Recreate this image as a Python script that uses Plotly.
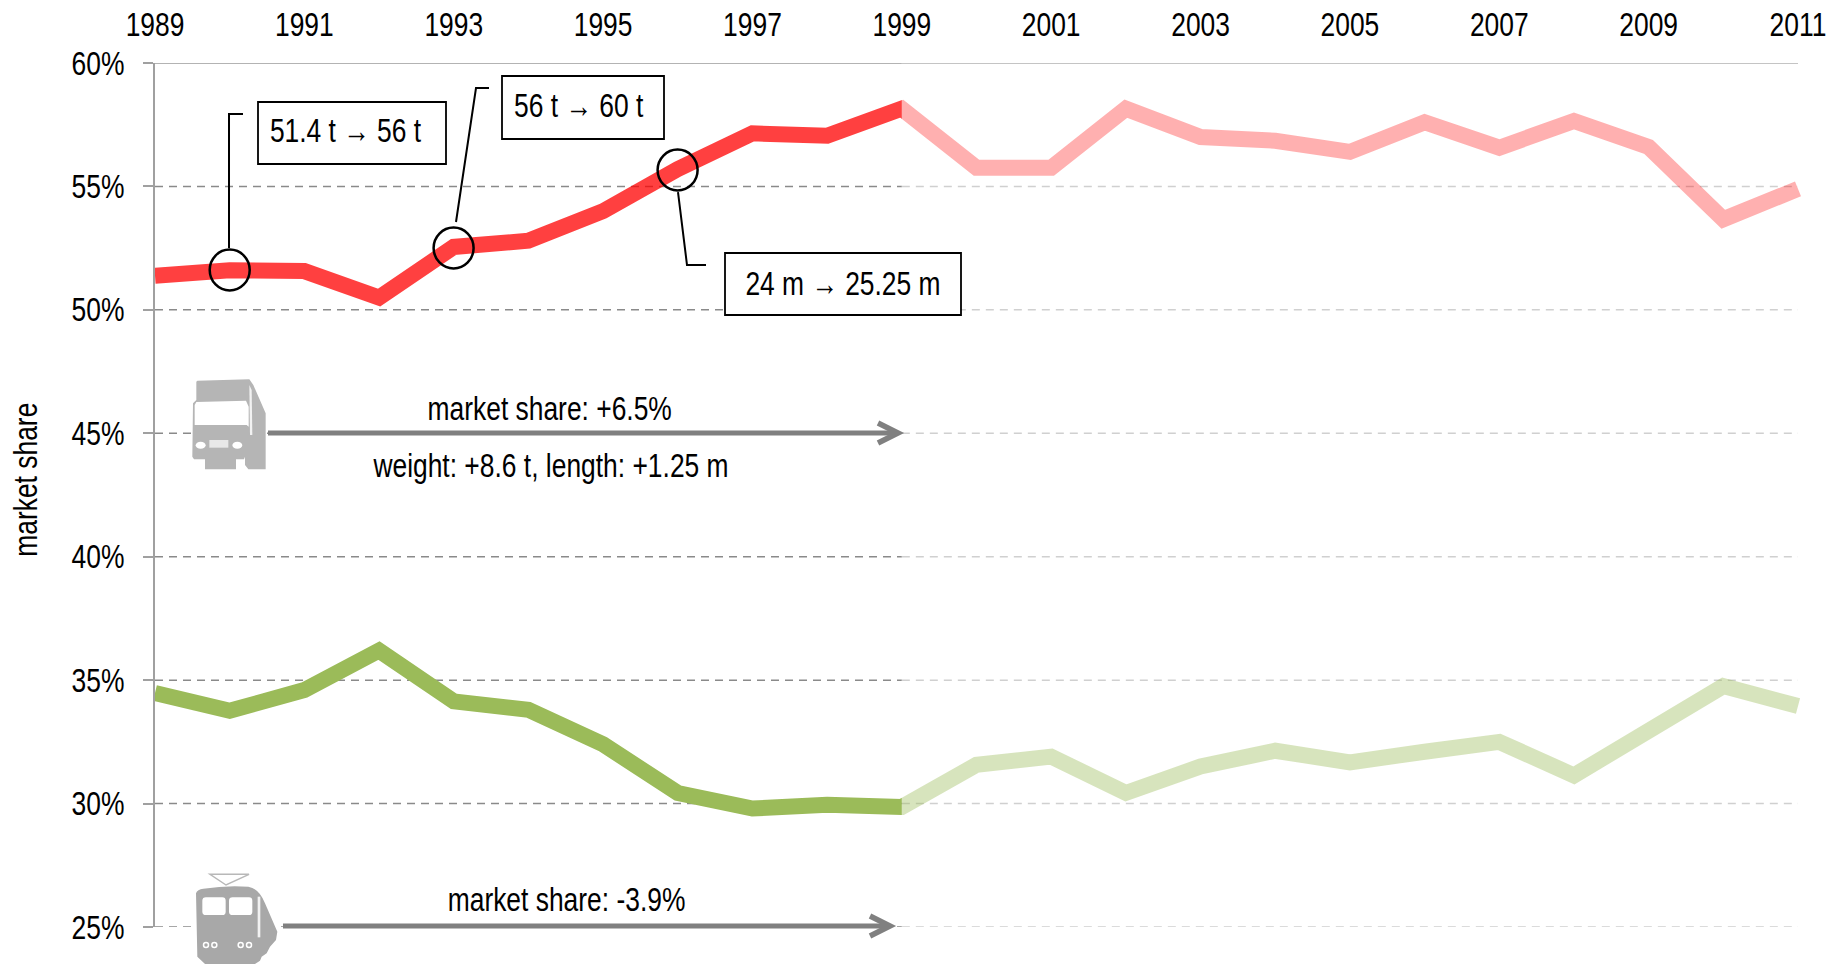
import re
import plotly.graph_objects as go

years = list(range(1989, 2012))
road_share = [51.38, 51.6, 51.57, 50.5, 52.55, 52.8, 54.0, 55.7, 57.15, 57.05, 58.15, 55.76, 55.76,
              58.15, 57.0, 56.85, 56.4, 57.6, 56.57, 57.65, 56.6, 53.67, 54.9]
rail_share = [34.48, 33.76, 34.6, 36.2, 34.14, 33.8, 32.4, 30.43, 29.8, 29.95, 29.86, 31.57, 31.9,
              30.43, 31.5, 32.14, 31.67, 32.1, 32.5, 31.14, 32.95, 34.76, 33.95]
y_ticks = [25, 30, 35, 40, 45, 50, 55]
x_tick_years = list(range(1989, 2012, 2))
split_year = 1999
x_end = 2011.04
callouts = ["51.4 t → 56 t", "56 t → 60 t", "24 m → 25.25 m"]
road_labels = ["market share: +6.5%", "weight: +8.6 t, length: +1.25 m"]
rail_labels = ["market share: -3.9%"]

W, H = 1841, 964
L, T, R, B = 155, 63, 1801, 927   # plot area in picture pixels
FONT = "Liberation Sans, Arial, sans-serif"
FS = 33
GRID_D, GRID_L = "#8a8a8a", "#d0d0d0"
AXIS = "#a0a0a0"


def px(x):
    return (x - L) / (R - L)


def py(y):
    return 1 - (y - T) / (B - T)


def path(s, ox=0, oy=0, k=1.0):
    """Convert an SVG path written in picture pixels to paper coordinates."""
    toks = re.findall(r"[MLQCZ]|-?\d+\.?\d*", s)
    out, isx = [], True
    for t in toks:
        if t in "MLQCZ":
            out.append(t)
            isx = True
        else:
            v = float(t)
            out.append(f"{px(ox + v * k):.5f}" if isx else f"{py(oy + v * k):.5f}")
            isx = not isx
    return " ".join(out)


def pshape(s, fill=None, line=None, lw=0, ox=0, oy=0, k=1.0, rule="evenodd"):
    return dict(type="path", xref="paper", yref="paper", path=path(s, ox, oy, k),
                fillcolor=fill if fill else "rgba(0,0,0,0)", fillrule=rule,
                line=dict(color=line if line else "rgba(0,0,0,0)", width=lw))


def rect(x0, y0, x1, y1, fill="white", line="black", lw=1.8):
    return dict(type="rect", xref="paper", yref="paper", x0=px(x0), x1=px(x1), y0=py(y0), y1=py(y1),
                fillcolor=fill, line=dict(color=line, width=lw))


def ell(cx, cy, rx, ry, fill="rgba(0,0,0,0)", line="black", lw=2.5):
    return dict(type="circle", xref="paper", yref="paper", x0=px(cx - rx), x1=px(cx + rx),
                y0=py(cy - ry), y1=py(cy + ry), fillcolor=fill, line=dict(color=line, width=lw))


def text(x, y, s, angle=0):
    return dict(xref="paper", yref="paper", x=px(x), y=py(y), text=s, showarrow=False, xanchor="center",
                yanchor="middle", textangle=angle, font=dict(family=FONT, size=FS, color="black"))


fig = go.Figure()

for v in y_ticks:
    fig.add_trace(go.Scatter(x=[1989, split_year], y=[v, v], mode="lines", cliponaxis=False, hoverinfo="skip",
                             line=dict(color=GRID_D, width=1.5, dash="8px,6px"), showlegend=False))
    fig.add_trace(go.Scatter(x=[split_year, 2011], y=[v, v], mode="lines", cliponaxis=False, hoverinfo="skip",
                             line=dict(color=GRID_L, width=1.5, dash="8px,6px"), showlegend=False))
fig.add_trace(go.Scatter(x=[1989, split_year], y=[60, 60], mode="lines", cliponaxis=False, hoverinfo="skip",
                         line=dict(color="#9a9a9a", width=1.5), showlegend=False))
fig.add_trace(go.Scatter(x=[split_year, 2011], y=[60, 60], mode="lines", cliponaxis=False, hoverinfo="skip",
                         line=dict(color="#b0b0b0", width=1.5), showlegend=False))

n = years.index(split_year)
for vals, dark, light in [(road_share, "rgba(255,0,0,0.75)", "rgba(255,0,0,0.31)"),
                          (rail_share, "#9bbb59", "rgba(155,187,89,0.4)")]:
    fig.add_trace(go.Scatter(x=years[:n + 2], y=vals[:n + 2], xaxis="x2", mode="lines", hoverinfo="skip",
                             line=dict(color=dark, width=16), showlegend=False))
    fig.add_trace(go.Scatter(x=years[n - 1:], y=vals[n - 1:], xaxis="x3", mode="lines", hoverinfo="skip",
                             line=dict(color=light, width=16), showlegend=False))

d_split = (split_year - 1989) / (x_end - 1989)

shapes = []
shapes += [rect(258, 102, 446, 164), rect(502, 76, 664, 139), rect(725, 253, 961, 315)]
shapes += [ell(229.7, 270, 20, 20.5), ell(453.6, 248, 20, 20.5), ell(677.6, 170, 20, 20.5)]
shapes += [pshape("M229 248 L229 114 L243 114", line="black", lw=2),
           pshape("M456 222 L476 88 L489 88", line="black", lw=2),
           pshape("M678 192 L687 265 L706 265", line="black", lw=2)]
ARROW = "#808080"
shapes += [pshape("M268 433 L898 433", line=ARROW, lw=5),
           pshape("M878 423 L898 433 L878 443", line=ARROW, lw=5.5),
           pshape("M283 926 L890 926", line=ARROW, lw=5),
           pshape("M870 916 L890 926 L870 936", line=ARROW, lw=5.5)]

# truck icon
TRUCK = "#b5b5b5"
tx, ty, tk = 120, 340, 1 / 3
shapes.append(pshape(
    "M229 125 L232 122 L388 118 L400 135 L437 220 L437 388 L385 388 L375 375 L375 350 L372 358 "
    "L348 358 L348 388 L255 388 L255 358 L222 358 L217 350 L219 190 L229 180 Z "
    "M229 186 L224 195 L224 255 L380 255 L386 260 L386 200 L378 182 Z", fill=TRUCK, ox=tx, oy=ty, k=tk))
shapes.append(pshape("M388 135 L395 150 L397 285 L390 285 Z", fill="#f2f2f2", ox=tx, oy=ty, k=tk))
shapes.append(ell(120 + 242 * tk, 340 + 316 * tk, 5, 3.5, fill="white", line="white", lw=0))
shapes.append(ell(120 + 352 * tk, 340 + 316 * tk, 5, 3.5, fill="white", line="white", lw=0))
shapes.append(rect(120 + 268 * tk, 340 + 300 * tk, 120 + 325 * tk, 340 + 323 * tk, fill="#e8e8e8", line="#e8e8e8", lw=0))

# train icon
TRAIN = "#a8a8a8"
rx_, ry_ = 120, 850
shapes.append(pshape("M270 73 L387 73 L318 105 Z", line="#b8b8b8", lw=1.5, ox=rx_, oy=ry_, k=tk))
shapes.append(pshape(
    "M228 130 Q232 118 250 116 Q320 105 385 110 Q418 116 435 160 L472 245 L468 270 L450 290 L440 310 "
    "L425 320 L420 332 L405 342 L255 342 L232 320 Z "
    "M258 142 L307 142 Q317 142 317 152 L317 185 Q317 195 307 195 L258 195 Q247 195 247 185 L247 152 Q247 142 258 142 Z "
    "M338 142 L387 142 Q397 142 397 152 L397 185 Q397 195 387 195 L338 195 Q327 195 327 185 L327 152 Q327 142 338 142 Z",
    fill=TRAIN, ox=rx_, oy=ry_, k=tk))
shapes.append(pshape("M413 140 L421 140 L421 262 L413 262 Z", fill="#f2f2f2", ox=rx_, oy=ry_, k=tk))
for zx in (258, 283, 362, 387):
    shapes.append(ell(rx_ + zx * tk, ry_ + 285 * tk, 2.5, 2.5, fill=TRAIN, line="white", lw=1.5))

annotations = [
    text(345, 130, callouts[0]),
    text(578, 106, callouts[1]),
    text(843, 283, callouts[2]),
    text(549, 408, road_labels[0]),
    text(550, 466, road_labels[1]),
    text(566, 899, rail_labels[0]),
    text(26, 480, "market share", angle=-90),
]

fig.update_layout(
    width=W, height=H, autosize=False, paper_bgcolor="white", plot_bgcolor="rgba(0,0,0,0)",
    margin=dict(l=L, r=W - R, t=T, b=H - B, autoexpand=False), showlegend=False,
    font=dict(family=FONT, size=FS, color="black"),
    xaxis=dict(domain=[0, 1], range=[1989, x_end], side="top", anchor="y", tickmode="array",
               tickvals=x_tick_years, ticktext=[str(v) for v in x_tick_years], showgrid=False, zeroline=False,
               showline=False, ticks="", ticklabelstandoff=19),
    xaxis2=dict(domain=[0, d_split], range=[1989, split_year], anchor="y", visible=False),
    xaxis3=dict(domain=[d_split, 1], range=[split_year, x_end], anchor="y", visible=False),
    yaxis=dict(domain=[0, 1], range=[25, 60], anchor="x", tickmode="array", tickvals=y_ticks + [60],
               ticktext=[f"{v}%" for v in y_ticks + [60]], ticks="outside", ticklen=10, tickwidth=1.5,
               tickcolor=AXIS, showgrid=False, zeroline=False, showline=True, linecolor=AXIS, linewidth=2,
               ticklabelstandoff=12),
    shapes=shapes, annotations=annotations,
)
# Page flush with the window; the reference type is a condensed sans, so narrow the real text.
POST = """
document.documentElement.style.overflow = 'hidden';
document.body.style.margin = '0';
document.querySelectorAll('svg text').forEach(function (t) {
  var node = t.querySelector('tspan') || t;
  var w = t.getComputedTextLength();
  node.setAttribute('textLength', (w * 0.8).toFixed(1));
  node.setAttribute('lengthAdjust', 'spacingAndGlyphs');
});
"""
fig.write_html("out.html", config=dict(displayModeBar=False), post_script=POST)
